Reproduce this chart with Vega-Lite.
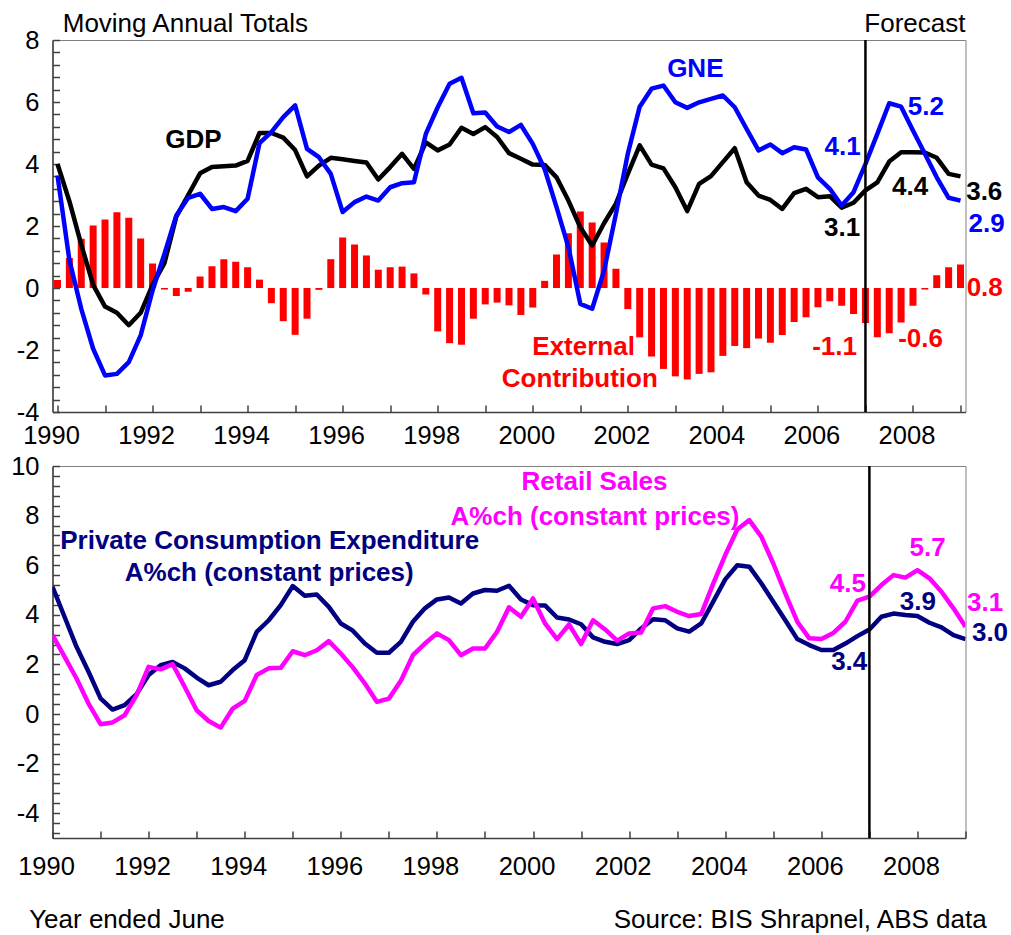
{
  "$schema": "https://vega.github.io/schema/vega-lite/v6.json",
  "padding": {"left": 9.5, "top": 10, "right": 0, "bottom": 0},
  "spacing": 54,
  "bounds": "flush",
  "config": {
    "font": "Liberation Sans",
    "view": {"stroke": "#808080", "strokeWidth": 1},
    "axis": {"grid": false, "title": null, "domainColor": "#404040", "domainWidth": 1.5, "tickColor": "#404040", "tickWidth": 1.5, "tickSize": -7, "tickCount": 100, "labelFontSize": 25.5, "labelColor": "#000000", "labelFont": "Liberation Sans", "labelOverlap": false, "labelFlush": false, "labelBound": false}
  },
  "datasets": {
    "main": [
      {"t":1990,"GDP":4.0,"GNE":3.63,"EXT":0.26,"PCE":5.13,"RET":3.18},
      {"t":1990.25,"GDP":2.8,"GNE":0.9,"EXT":0.97,"PCE":3.92,"RET":2.31},
      {"t":1990.5,"GDP":1.4,"GNE":-0.67,"EXT":1.59,"PCE":2.71,"RET":1.43},
      {"t":1990.75,"GDP":0.1,"GNE":-1.96,"EXT":2.02,"PCE":1.7,"RET":0.42},
      {"t":1991,"GDP":-0.6,"GNE":-2.82,"EXT":2.21,"PCE":0.63,"RET":-0.41},
      {"t":1991.25,"GDP":-0.8,"GNE":-2.77,"EXT":2.44,"PCE":0.18,"RET":-0.34},
      {"t":1991.5,"GDP":-1.2,"GNE":-2.39,"EXT":2.27,"PCE":0.36,"RET":-0.05},
      {"t":1991.75,"GDP":-0.8,"GNE":-1.53,"EXT":1.6,"PCE":0.8,"RET":0.76},
      {"t":1992,"GDP":0.1,"GNE":-0.08,"EXT":0.79,"PCE":1.57,"RET":1.9},
      {"t":1992.25,"GDP":0.8,"GNE":1.1,"EXT":-0.05,"PCE":1.97,"RET":1.8},
      {"t":1992.5,"GDP":2.3,"GNE":2.34,"EXT":-0.26,"PCE":2.1,"RET":2.01},
      {"t":1992.75,"GDP":3.0,"GNE":2.91,"EXT":-0.12,"PCE":1.84,"RET":1.1},
      {"t":1993,"GDP":3.7,"GNE":3.04,"EXT":0.37,"PCE":1.47,"RET":0.15},
      {"t":1993.25,"GDP":3.9,"GNE":2.55,"EXT":0.7,"PCE":1.16,"RET":-0.28},
      {"t":1993.5,"GDP":3.93,"GNE":2.61,"EXT":0.93,"PCE":1.3,"RET":-0.55},
      {"t":1993.75,"GDP":3.95,"GNE":2.48,"EXT":0.85,"PCE":1.77,"RET":0.22},
      {"t":1994,"GDP":4.1,"GNE":2.88,"EXT":0.67,"PCE":2.17,"RET":0.53},
      {"t":1994.25,"GDP":5.0,"GNE":4.67,"EXT":0.27,"PCE":3.31,"RET":1.57},
      {"t":1994.5,"GDP":5.0,"GNE":5.03,"EXT":-0.49,"PCE":3.78,"RET":1.84},
      {"t":1994.75,"GDP":4.85,"GNE":5.51,"EXT":-1.07,"PCE":4.39,"RET":1.86},
      {"t":1995,"GDP":4.45,"GNE":5.89,"EXT":-1.51,"PCE":5.16,"RET":2.53},
      {"t":1995.25,"GDP":3.6,"GNE":4.49,"EXT":-0.99,"PCE":4.77,"RET":2.37},
      {"t":1995.5,"GDP":3.95,"GNE":4.22,"EXT":-0.06,"PCE":4.82,"RET":2.57},
      {"t":1995.75,"GDP":4.2,"GNE":3.68,"EXT":0.93,"PCE":4.32,"RET":2.94},
      {"t":1996,"GDP":4.15,"GNE":2.45,"EXT":1.63,"PCE":3.65,"RET":2.44},
      {"t":1996.25,"GDP":4.1,"GNE":2.77,"EXT":1.4,"PCE":3.36,"RET":1.88},
      {"t":1996.5,"GDP":4.05,"GNE":2.95,"EXT":1.05,"PCE":2.84,"RET":1.23},
      {"t":1996.75,"GDP":3.5,"GNE":2.82,"EXT":0.59,"PCE":2.47,"RET":0.49},
      {"t":1997,"GDP":3.9,"GNE":3.25,"EXT":0.67,"PCE":2.47,"RET":0.62},
      {"t":1997.25,"GDP":4.33,"GNE":3.38,"EXT":0.69,"PCE":2.91,"RET":1.34},
      {"t":1997.5,"GDP":3.84,"GNE":3.41,"EXT":0.47,"PCE":3.72,"RET":2.37},
      {"t":1997.75,"GDP":4.7,"GNE":4.97,"EXT":-0.21,"PCE":4.26,"RET":2.84},
      {"t":1998,"GDP":4.44,"GNE":5.83,"EXT":-1.4,"PCE":4.62,"RET":3.25},
      {"t":1998.25,"GDP":4.63,"GNE":6.59,"EXT":-1.78,"PCE":4.7,"RET":2.98},
      {"t":1998.5,"GDP":5.17,"GNE":6.78,"EXT":-1.83,"PCE":4.46,"RET":2.37},
      {"t":1998.75,"GDP":4.97,"GNE":5.64,"EXT":-0.99,"PCE":4.86,"RET":2.64},
      {"t":1999,"GDP":5.19,"GNE":5.66,"EXT":-0.53,"PCE":5.0,"RET":2.64},
      {"t":1999.25,"GDP":4.87,"GNE":5.21,"EXT":-0.47,"PCE":4.97,"RET":3.31},
      {"t":1999.5,"GDP":4.35,"GNE":5.03,"EXT":-0.56,"PCE":5.17,"RET":4.3},
      {"t":1999.75,"GDP":4.17,"GNE":5.26,"EXT":-0.87,"PCE":4.62,"RET":3.92},
      {"t":2000,"GDP":3.98,"GNE":4.65,"EXT":-0.63,"PCE":4.39,"RET":4.66},
      {"t":2000.25,"GDP":3.97,"GNE":3.84,"EXT":0.23,"PCE":4.38,"RET":3.65},
      {"t":2000.5,"GDP":3.57,"GNE":2.61,"EXT":1.08,"PCE":3.89,"RET":3.02},
      {"t":2000.75,"GDP":2.82,"GNE":1.32,"EXT":1.77,"PCE":3.81,"RET":3.61},
      {"t":2001,"GDP":1.96,"GNE":-0.51,"EXT":2.47,"PCE":3.62,"RET":2.82},
      {"t":2001.25,"GDP":1.37,"GNE":-0.67,"EXT":2.11,"PCE":3.09,"RET":3.78},
      {"t":2001.5,"GDP":2.09,"GNE":0.56,"EXT":1.47,"PCE":2.91,"RET":3.41},
      {"t":2001.75,"GDP":2.72,"GNE":2.39,"EXT":0.62,"PCE":2.82,"RET":2.96},
      {"t":2002,"GDP":3.68,"GNE":4.33,"EXT":-0.68,"PCE":2.98,"RET":3.25},
      {"t":2002.25,"GDP":4.6,"GNE":5.85,"EXT":-1.59,"PCE":3.45,"RET":3.29},
      {"t":2002.5,"GDP":3.98,"GNE":6.43,"EXT":-2.21,"PCE":3.82,"RET":4.26},
      {"t":2002.75,"GDP":3.86,"GNE":6.53,"EXT":-2.61,"PCE":3.78,"RET":4.35},
      {"t":2003,"GDP":3.25,"GNE":5.99,"EXT":-2.85,"PCE":3.45,"RET":4.12},
      {"t":2003.25,"GDP":2.48,"GNE":5.81,"EXT":-2.95,"PCE":3.32,"RET":3.95},
      {"t":2003.5,"GDP":3.36,"GNE":5.99,"EXT":-2.77,"PCE":3.65,"RET":4.03},
      {"t":2003.75,"GDP":3.61,"GNE":6.1,"EXT":-2.72,"PCE":4.53,"RET":5.26},
      {"t":2004,"GDP":4.06,"GNE":6.21,"EXT":-2.19,"PCE":5.43,"RET":6.41},
      {"t":2004.25,"GDP":4.51,"GNE":5.83,"EXT":-1.87,"PCE":6.0,"RET":7.44},
      {"t":2004.5,"GDP":3.41,"GNE":5.13,"EXT":-1.94,"PCE":5.94,"RET":7.82},
      {"t":2004.75,"GDP":2.98,"GNE":4.44,"EXT":-1.63,"PCE":5.27,"RET":7.15},
      {"t":2005,"GDP":2.84,"GNE":4.63,"EXT":-1.77,"PCE":4.53,"RET":6.07},
      {"t":2005.25,"GDP":2.55,"GNE":4.35,"EXT":-1.52,"PCE":3.78,"RET":4.86},
      {"t":2005.5,"GDP":3.06,"GNE":4.54,"EXT":-1.1,"PCE":3.02,"RET":3.72},
      {"t":2005.75,"GDP":3.2,"GNE":4.47,"EXT":-0.94,"PCE":2.78,"RET":3.05},
      {"t":2006,"GDP":2.93,"GNE":3.57,"EXT":-0.62,"PCE":2.58,"RET":3.02},
      {"t":2006.25,"GDP":2.96,"GNE":3.2,"EXT":-0.43,"PCE":2.58,"RET":3.27},
      {"t":2006.5,"GDP":2.59,"GNE":2.66,"EXT":-0.57,"PCE":2.84,"RET":3.72},
      {"t":2006.75,"GDP":2.75,"GNE":3.09,"EXT":-0.84,"PCE":3.14,"RET":4.57},
      {"t":2007,"GDP":3.15,"GNE":4.0,"EXT":-1.13,"PCE":3.41,"RET":4.73},
      {"t":2007.25,"GDP":3.41,"GNE":4.97,"EXT":-1.59,"PCE":3.92,"RET":5.2},
      {"t":2007.5,"GDP":4.08,"GNE":5.96,"EXT":-1.46,"PCE":4.05,"RET":5.6},
      {"t":2007.75,"GDP":4.38,"GNE":5.85,"EXT":-1.11,"PCE":3.99,"RET":5.5},
      {"t":2008,"GDP":4.38,"GNE":5.08,"EXT":-0.57,"PCE":3.95,"RET":5.8},
      {"t":2008.25,"GDP":4.37,"GNE":4.33,"EXT":-0.05,"PCE":3.68,"RET":5.47},
      {"t":2008.5,"GDP":4.2,"GNE":3.57,"EXT":0.41,"PCE":3.49,"RET":4.93},
      {"t":2008.75,"GDP":3.68,"GNE":2.91,"EXT":0.67,"PCE":3.18,"RET":4.26},
      {"t":2009,"GDP":3.6,"GNE":2.82,"EXT":0.76,"PCE":3.02,"RET":3.52}
    ],
    "toplab": [
      {"s":"GDP","t":1992.86,"v":4.76,"txt":"GDP"},
      {"s":"GNE","t":2003.42,"v":7.05,"txt":"GNE"},
      {"s":"EXT","t":2001.07,"v":-1.9,"txt":"External"},
      {"s":"EXT","t":2000.99,"v":-2.95,"txt":"Contribution"},
      {"s":"GNE","t":2006.52,"v":4.56,"txt":"4.1"},
      {"s":"GNE","t":2008.27,"v":5.85,"txt":"5.2"},
      {"s":"GDP","t":2006.51,"v":1.92,"txt":"3.1"},
      {"s":"GDP","t":2007.94,"v":3.27,"txt":"4.4"},
      {"s":"GDP","t":2009.5,"v":3.11,"txt":"3.6"},
      {"s":"GNE","t":2009.55,"v":2.05,"txt":"2.9"},
      {"s":"EXT","t":2009.51,"v":0.0,"txt":"0.8"},
      {"s":"EXT","t":2006.35,"v":-1.89,"txt":"-1.1"},
      {"s":"EXT","t":2008.16,"v":-1.63,"txt":"-0.6"}
    ],
    "topnote": [
      {"t":1992.69,"v":8.53,"txt":"Moving Annual Totals"},
      {"t":2008.04,"v":8.53,"txt":"Forecast"}
    ],
    "botlab": [
      {"s":"PCE","t":1994.52,"v":6.99,"txt":"Private Consumption Expenditure"},
      {"s":"PCE","t":1994.51,"v":5.7,"txt":"A%ch (constant prices)"},
      {"s":"RET","t":2001.28,"v":9.35,"txt":"Retail Sales"},
      {"s":"RET","t":2001.29,"v":7.96,"txt":"A%ch (constant prices)"},
      {"s":"RET","t":2006.55,"v":5.24,"txt":"4.5"},
      {"s":"RET","t":2008.21,"v":6.69,"txt":"5.7"},
      {"s":"RET","t":2009.41,"v":4.47,"txt":"3.1"},
      {"s":"PCE","t":2008.01,"v":4.51,"txt":"3.9"},
      {"s":"PCE","t":2006.58,"v":2.09,"txt":"3.4"},
      {"s":"PCE","t":2009.51,"v":3.26,"txt":"3.0"}
    ],
    "botnote": [
      {"t":1991.55,"v":-8.32,"txt":"Year ended June"},
      {"t":2005.56,"v":-8.32,"txt":"Source: BIS Shrapnel, ABS data"}
    ],
    "forecast": [{"t":2007}],
    "zero": [{"v":0}]
  },
  "vconcat": [
    {
      "width": 913,
      "height": 372,
      "encoding": {
        "x": {"field": "t", "type": "quantitative", "scale": {"domain": [1990, 2009], "nice": false, "zero": false},
              "axis": {"values": [1990,1991,1992,1993,1994,1995,1996,1997,1998,1999,2000,2001,2002,2003,2004,2005,2006,2007,2008,2009],
                       "labelExpr": "datum.value % 2 == 0 ? '' + datum.value : ''", "labelOffset": -6.5, "labelPadding": 18}}
      },
      "layer": [
        {
          "data": {"name": "main"},
          "mark": {"type": "bar", "color": "#FF0000", "size": 7, "clip": true},
          "encoding": {
            "y": {"field": "EXT", "type": "quantitative", "scale": {"domain": [-4, 8], "nice": false, "zero": false},
                  "axis": {"values": [-4,-3.6,-3.2,-2.8,-2.4,-2,-1.6,-1.2,-0.8,-0.4,0,0.4,0.8,1.2,1.6,2,2.4,2.8,3.2,3.6,4,4.4,4.8,5.2,5.6,6,6.4,6.8,7.2,7.6,8],
                           "labelExpr": "abs(datum.value) % 2 < 0.01 ? '' + datum.value : ''", "labelPadding": 20.5}}
          }
        },
        {
          "data": {"name": "main"},
          "transform": [{"fold": ["GDP", "GNE"], "as": ["s", "val"]}],
          "mark": {"type": "line", "strokeWidth": 4.5, "strokeJoin": "round", "clip": true},
          "encoding": {
            "y": {"field": "val", "type": "quantitative"},
            "color": {"field": "s", "type": "nominal", "scale": {"domain": ["GDP","GNE","EXT","PCE","RET"], "range": ["#000000","#0000FF","#FF0000","#000080","#FF00FF"]}, "legend": null}
          }
        },
        {
          "data": {"name": "forecast"},
          "mark": {"type": "rule", "color": "#000000", "strokeWidth": 2.5},
          "encoding": {}
        },
        {
          "data": {"name": "toplab"},
          "mark": {"type": "text", "fontSize": 26, "fontWeight": "bold", "align": "center", "baseline": "middle"},
          "encoding": {
            "y": {"field": "v", "type": "quantitative"},
            "text": {"field": "txt"},
            "color": {"field": "s", "type": "nominal", "scale": {"domain": ["GDP","GNE","EXT","PCE","RET"], "range": ["#000000","#0000FF","#FF0000","#000080","#FF00FF"]}, "legend": null}
          }
        },
        {
          "data": {"name": "topnote"},
          "mark": {"type": "text", "fontSize": 26, "color": "#000000", "align": "center", "baseline": "middle"},
          "encoding": {
            "y": {"field": "v", "type": "quantitative"},
            "text": {"field": "txt"}
          }
        }
      ]
    },
    {
      "width": 913,
      "height": 372,
      "encoding": {
        "x": {"field": "t", "type": "quantitative", "scale": {"domain": [1990, 2009], "nice": false, "zero": false},
              "axis": {"values": [1990,1991,1992,1993,1994,1995,1996,1997,1998,1999,2000,2001,2002,2003,2004,2005,2006,2007,2008,2009],
                       "labelExpr": "datum.value % 2 == 0 ? '' + datum.value : ''", "labelOffset": -6.5, "labelPadding": 23}}
      },
      "layer": [
        {
          "data": {"name": "zero"},
          "mark": {"type": "rule", "color": "#000000", "strokeWidth": 2.5},
          "encoding": {
            "y": {"field": "v", "type": "quantitative", "scale": {"domain": [-5, 10], "nice": false, "zero": false},
                  "axis": {"values": [-4.8,-4.4,-4,-3.6,-3.2,-2.8,-2.4,-2,-1.6,-1.2,-0.8,-0.4,0,0.4,0.8,1.2,1.6,2,2.4,2.8,3.2,3.6,4,4.4,4.8,5.2,5.6,6,6.4,6.8,7.2,7.6,8,8.4,8.8,9.2,9.6,10],
                           "labelExpr": "abs(datum.value) % 2 < 0.01 ? '' + datum.value : ''", "labelPadding": 20.5}}
          }
        },
        {
          "data": {"name": "main"},
          "transform": [{"fold": ["PCE", "RET"], "as": ["s", "val"]}],
          "mark": {"type": "line", "strokeWidth": 4.5, "strokeJoin": "round", "clip": true},
          "encoding": {
            "y": {"field": "val", "type": "quantitative"},
            "color": {"field": "s", "type": "nominal", "scale": {"domain": ["GDP","GNE","EXT","PCE","RET"], "range": ["#000000","#0000FF","#FF0000","#000080","#FF00FF"]}, "legend": null}
          }
        },
        {
          "data": {"name": "forecast"},
          "mark": {"type": "rule", "color": "#000000", "strokeWidth": 2.5},
          "encoding": {}
        },
        {
          "data": {"name": "botlab"},
          "mark": {"type": "text", "fontSize": 26, "fontWeight": "bold", "align": "center", "baseline": "middle"},
          "encoding": {
            "y": {"field": "v", "type": "quantitative"},
            "text": {"field": "txt"},
            "color": {"field": "s", "type": "nominal", "scale": {"domain": ["GDP","GNE","EXT","PCE","RET"], "range": ["#000000","#0000FF","#FF0000","#000080","#FF00FF"]}, "legend": null}
          }
        },
        {
          "data": {"name": "botnote"},
          "mark": {"type": "text", "fontSize": 26, "color": "#000000", "align": "center", "baseline": "middle"},
          "encoding": {
            "y": {"field": "v", "type": "quantitative"},
            "text": {"field": "txt"}
          }
        }
      ]
    }
  ]
}
